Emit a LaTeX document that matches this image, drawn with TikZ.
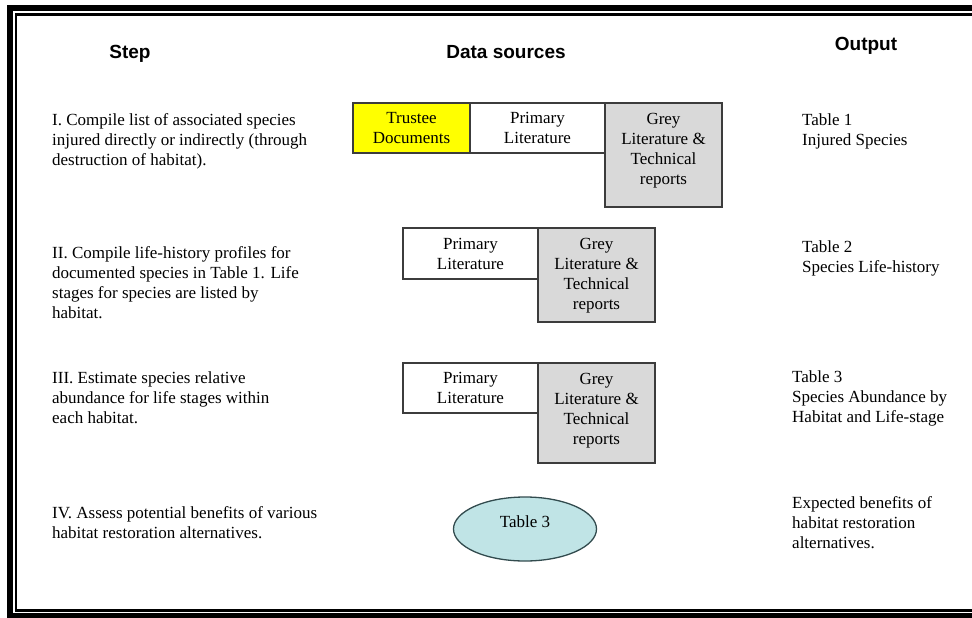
\documentclass[tikz,border=0pt]{standalone}
\usepackage{fontspec}
\setmainfont{Liberation Serif}
\newfontfamily\hdfont{Liberation Sans}
\usetikzlibrary{shapes.geometric}
\definecolor{boxline}{RGB}{60,60,60}
\definecolor{greyfill}{RGB}{217,217,217}
\definecolor{trusteeyellow}{RGB}{255,255,0}
\definecolor{ellfill}{RGB}{192,228,230}
\definecolor{ellline}{RGB}{50,75,78}
\begin{document}
\begin{tikzpicture}[x=1pt,y=-1pt,
  hdr/.style={font=\hdfont\bfseries\fontsize{19}{21}\selectfont, inner sep=0, anchor=base},
  steptext/.style={font=\fontsize{17}{20}\selectfont, align=left, inner sep=0, anchor=base west},
  srcbox/.style={draw=boxline, line width=1.3pt, inner sep=0, font=\fontsize{17}{20}\selectfont, align=center},
  srctext/.style={font=\fontsize{17}{20}\selectfont, align=center, inner sep=0, anchor=base}
]
\useasboundingbox (0,0) rectangle (972,618);
\clip (0,0) rectangle (972,618);
% page border
\draw[line width=6pt] (990,8) -- (10,8) -- (10,616) -- (990,616);
\draw[line width=2.2pt] (990,14.5) -- (16,14.5) -- (16,610.5) -- (990,610.5);
% headers
\node[hdr] (hstep) at (130,58.5) {Step};
\node[hdr] (hdata) at (506,58.5) {Data sources};
\node[hdr] (hout) at (866,51) {Output};
% steps (base anchor = baseline of last line)
\node[steptext] (s1) at (52,165) {I. Compile list of associated species\\injured directly or indirectly (through\\destruction of habitat).};
\node[steptext] (s2) at (52,318) {II. Compile life-history profiles for\\documented species in Table 1. Life\\stages for species are listed by\\habitat.};
\node[steptext] (s3) at (52,423) {III. Estimate species relative\\abundance for life stages within\\each habitat.};
\node[steptext] (s4) at (52,538) {IV. Assess potential benefits of various\\habitat restoration alternatives.};
% outputs
\node[steptext] (o1) at (802,145) {Table 1\\Injured Species};
\node[steptext] (o2) at (802,272) {Table 2\\Species Life-history};
\node[steptext] (o3) at (792,422) {Table 3\\Species Abundance by\\Habitat and Life-stage};
\node[steptext] (o4) at (792,548) {Expected benefits of\\habitat restoration\\alternatives.};
% row I sources
\node[srcbox, fill=trusteeyellow, minimum width=117, minimum height=50] (t1) at (411.5,128) {Trustee\\Documents};
\node[srcbox, fill=white, minimum width=135, minimum height=50] (p1) at (537.5,128) {Primary\\Literature};
\node[srcbox, fill=greyfill, minimum width=117, minimum height=104] (g1) at (663.5,155) {};
\node[srctext] (g1t) at (663.5,184) {Grey\\Literature \&\\Technical\\reports};
% row II sources
\node[srcbox, fill=white, minimum width=135, minimum height=51] (p2) at (470.5,253.5) {Primary\\Literature};
\node[srcbox, fill=greyfill, minimum width=117, minimum height=94] (g2) at (596.5,275) {};
\node[srctext] (g2t) at (596.5,309.5) {Grey\\Literature \&\\Technical\\reports};
% row III sources
\node[srcbox, fill=white, minimum width=135, minimum height=50] (p3) at (470.5,388) {Primary\\Literature};
\node[srcbox, fill=greyfill, minimum width=117, minimum height=100] (g3) at (596.5,413) {};
\node[srctext] (g3t) at (596.5,444) {Grey\\Literature \&\\Technical\\reports};
% row IV
\node[ellipse, draw=ellline, line width=1.3pt, fill=ellfill, minimum width=143, minimum height=64, inner sep=0] (e4) at (525,529) {};
\node[srctext] (e4t) at (525,527) {Table 3};
\end{tikzpicture}
\end{document}
